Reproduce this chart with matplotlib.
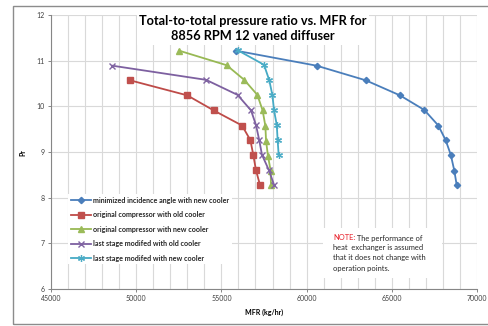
import matplotlib
matplotlib.use('Agg')
import matplotlib.pyplot as plt
from matplotlib.patches import Rectangle
from matplotlib.ticker import MultipleLocator

plt.rcParams['font.family'] = ['Lato', 'DejaVu Sans']

# series data (MFR kg/hr, pressure ratio)
min_inc_x = [55840, 60590, 63470, 65480, 66910, 67730, 68160, 68460, 68670, 68810]
min_inc_y = [11.22, 10.89, 10.57, 10.24, 9.92, 9.58, 9.26, 8.94, 8.59, 8.27]
orig_old_x = [49640, 53000, 54550, 56210, 56700, 56870, 57030, 57270]
orig_old_y = [10.57, 10.24, 9.91, 9.58, 9.26, 8.94, 8.60, 8.27]
orig_new_x = [52510, 55310, 56340, 57110, 57420, 57580, 57620, 57730, 57890, 57910]
orig_new_y = [11.22, 10.90, 10.58, 10.25, 9.91, 9.57, 9.25, 8.92, 8.59, 8.27]
last_old_x = [48600, 54100, 55950, 56740, 57030, 57220, 57380, 57790, 58100]
last_old_y = [10.89, 10.58, 10.25, 9.91, 9.59, 9.26, 8.94, 8.60, 8.27]
last_new_x = [55950, 57500, 57810, 57990, 58090, 58250, 58300, 58360]
last_new_y = [11.23, 10.91, 10.57, 10.25, 9.91, 9.59, 9.26, 8.94]

labels = ['minimized incidence angle with new cooler',
          'original compressor with old cooler',
          'original compressor with new cooler',
          'last stage modifed with old cooler',
          'last stage modifed with new cooler']

fig = plt.figure(figsize=(4.88, 3.26), dpi=100)
ax = fig.add_axes([51/488, 1 - 289/326, 426/488, 274/326])

# outer chart border
fig.add_artist(Rectangle((13/488, 2/326), 1.0, 318/326, transform=fig.transFigure,
                         fill=False, edgecolor='#8c8c8c', lw=1.0))

ax.plot(min_inc_x, min_inc_y, color='#4A7EBB', lw=1.3, marker='D', ms=3.2,
        mfc='#4A7EBB', mec='#4A7EBB', label=labels[0], zorder=3)
ax.plot(orig_old_x, orig_old_y, color='#BE4B48', lw=1.3, marker='s', ms=4,
        mfc='#C0504D', mec='#C0504D', label=labels[1], zorder=3)
ax.plot(orig_new_x, orig_new_y, color='#98B954', lw=1.3, marker='^', ms=4.2,
        mfc='#9BBB59', mec='#9BBB59', label=labels[2], zorder=3)
ax.plot(last_old_x, last_old_y, color='#7D60A0', lw=1.3, marker='x', ms=4,
        mew=1.0, mec='#8064A2', label=labels[3], zorder=3)
ax.plot(last_new_x, last_new_y, color='#46AAC5', lw=1.3, marker=(6, 2, 0), ms=5,
        mew=0.9, mec='#4BACC6', label=labels[4], zorder=3)

ax.set_xlim(45000, 70000)
ax.set_ylim(6, 12)
ax.xaxis.set_major_locator(MultipleLocator(5000))
ax.xaxis.set_minor_locator(MultipleLocator(1000))
ax.yaxis.set_major_locator(MultipleLocator(1))
ax.grid(True, which='both', axis='x', color='#d9d9d9', lw=0.8)
ax.grid(True, which='major', axis='y', color='#d9d9d9', lw=0.8)
ax.set_axisbelow(True)
for s in ['top', 'right']:
    ax.spines[s].set_visible(False)
for s in ['left', 'bottom']:
    ax.spines[s].set_color('#868686')
    ax.spines[s].set_linewidth(0.8)
ax.tick_params(which='major', length=2.5, width=0.7, color='#868686',
               labelsize=5, labelcolor='#404040', pad=2)
ax.tick_params(which='minor', length=0)

ax.set_xlabel('MFR (kg/hr)', fontsize=5, fontweight='bold', labelpad=5)
ax.set_ylabel('Pr', fontsize=5, fontweight='bold', labelpad=7)

ax.text(0.474, 1.0, 'Total-to-total pressure ratio vs. MFR for\n8856 RPM 12 vaned diffuser',
        transform=ax.transAxes, ha='center', va='top', fontsize=9.2,
        fontweight='bold', linespacing=1.35,
        bbox=dict(facecolor='white', edgecolor='none', pad=1.5))

leg = ax.legend(loc='upper left', bbox_to_anchor=(17/426, (289-194)/274),
                fontsize=5.1, frameon=True, fancybox=False, edgecolor='none',
                framealpha=1, handlelength=2.8, handletextpad=0.3,
                labelspacing=1.05, borderpad=0.4, borderaxespad=0)
for t in leg.get_texts():
    t.set_fontweight('bold')
    t.set_color('#262626')

# note box
ax.add_patch(Rectangle(((323-51)/426, (289-278)/274), (442-323)/426, 50/274,
                       transform=ax.transAxes, facecolor='white',
                       edgecolor='none', zorder=4))
note1 = ax.text((333-51)/426, (289-238)/274, 'NOTE:', transform=ax.transAxes,
                fontsize=5.4, color='#e8202a', va='center', zorder=5)
ax.annotate(' The performance of', xy=(1, 0.5), xycoords=note1, va='center',
            fontsize=5.4, color='#262626', zorder=5)
ax.text((333-51)/426, (289-244)/274,
        'heat  exchanger is assumed\nthat it does not change with\noperation points.',
        transform=ax.transAxes, fontsize=5.4, color='#262626', va='top',
        linespacing=1.55, zorder=5)

fig.savefig('out.png', dpi=100)
